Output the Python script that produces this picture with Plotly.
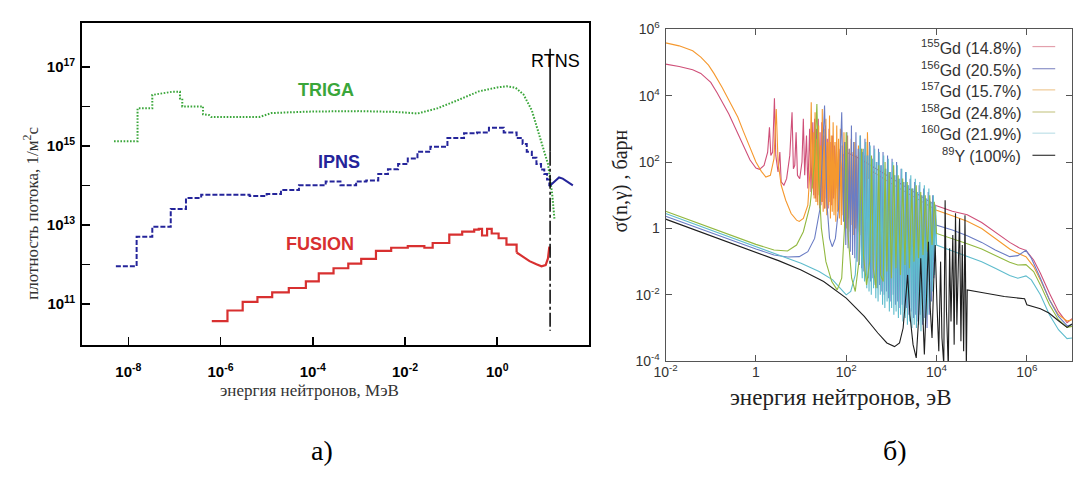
import plotly.graph_objects as go

W, H = 1073, 477

# ---------------- Left panel: neutron flux spectra (log10 values) ----------------
triga_logE = [-8.31, -7.8, -7.8, -7.48, -7.48, -7.2, -7.05, -6.88, -6.88, -6.83, -6.83, -6.38, -6.38, -6.25,
              -6.2, -5.16, -5.0, -4.9, -4.5, -4.0, -3.0, -2.2, -1.73, -1.3, -0.87, -0.4, 0.0, 0.2, 0.4,
              0.57, 0.75, 0.91, 1.0, 1.1, 1.19, 1.24]
triga_logF = [15.12, 15.12, 15.95, 15.95, 16.29, 16.33, 16.37, 16.37, 16.2, 16.2, 16.0, 16.0, 15.8, 15.78,
              15.73, 15.73, 15.8, 15.83, 15.85, 15.87, 15.88, 15.86, 15.82, 15.95, 16.15, 16.38, 16.48, 16.51, 16.47,
              16.3, 15.9, 15.27, 14.9, 14.54, 13.8, 13.15]

ipns_logE = [-8.27, -7.82, -7.48, -7.08, -6.75, -6.42, -5.37, -5.0, -4.69, -4.3, -3.72, -3.4, -3.06, -2.84,
             -2.58, -2.37, -2.15, -1.94, -1.73, -1.45, -1.08, -0.72, -0.44, -0.18, 0.14, 0.42, 0.55, 0.64,
             0.75, 0.85, 0.95, 1.02, 1.08, 1.13]
ipns_logF = [11.95, 12.7, 12.95, 13.4, 13.68, 13.76, 13.73, 13.78, 13.88, 14.0, 14.1, 14.0, 14.1, 14.12,
             14.29, 14.41, 14.54, 14.68, 14.85, 14.98, 15.2, 15.32, 15.34, 15.46, 15.34, 15.2, 15.05, 14.85,
             14.7, 14.54, 14.4, 14.29, 14.15, 13.98]
ipns_tail_logE = [1.13, 1.25, 1.34, 1.42, 1.49, 1.56, 1.64]
ipns_tail_logF = [13.98, 14.1, 14.2, 14.17, 14.12, 14.06, 14.0]

fusion_logE = [-6.19, -5.85, -5.52, -5.2, -4.88, -4.52, -4.15, -3.87, -3.55, -3.23, -2.95, -2.63, -2.3,
               -1.94, -1.58, -1.4, -1.04, -0.76, -0.5, -0.4, -0.33, -0.22, -0.12, 0.03, 0.2, 0.42]
fusion_logF = [10.56, 10.83, 11.05, 11.17, 11.29, 11.4, 11.57, 11.77, 11.9, 12.02, 12.14, 12.34, 12.42,
               12.46, 12.42, 12.54, 12.75, 12.83, 12.88, 12.9, 12.73, 12.9, 12.78, 12.66, 12.5, 12.3]
fusion_tail_logE = [0.42, 0.55, 0.7, 0.85, 0.96, 1.05, 1.1, 1.13]
fusion_tail_logF = [12.3, 12.2, 12.08, 12.0, 11.95, 11.98, 12.15, 12.45]

rtns_E = 14.0                     # MeV
rtns_solid_logF = [17.46, 14.85]
rtns_dash_logF = [14.85, 10.32]

left_xtick_vals = [1e-8, 1e-6, 1e-4, 1e-2, 1]
left_xtick_text = ["10<sup>-8</sup>", "10<sup>-6</sup>", "10<sup>-4</sup>", "10<sup>-2</sup>", "10<sup>0</sup>"]
left_ytick_vals = [1e11, 1e12, 1e13, 1e14, 1e15, 1e16, 1e17]
left_ytick_text = ["10<sup>11</sup>", "", "10<sup>13</sup>", "", "10<sup>15</sup>", "", "10<sup>17</sup>"]

# ---------------- Right panel: (n,gamma) cross sections, (log10 E [eV], log10 sigma [b]) ----------------
gd155 = [(-2.0, 4.95), (-1.7, 4.88), (-1.4, 4.78), (-1.22, 4.67), (-1.0, 4.4), (-0.86, 4.09), (-0.6, 3.45),
         (-0.42, 2.93), (-0.25, 2.45), (-0.13, 2.06), (0.0, 1.82), (0.08, 1.78), (0.18, 1.9), (0.26, 2.3),
         (0.30, 3.05), (0.33, 2.2), (0.37, 2.3), (0.41, 3.92), (0.44, 2.2), (0.49, 1.7), (0.53, 2.3),
         (0.56, 1.4), (0.62, 1.3), (0.68, 1.5), (0.75, 2.2), (0.80, 3.5), (0.83, 1.8), (0.86, 1.9),
         (0.89, 2.9), (0.92, 1.6), (0.97, 1.5), (1.02, 2.0), (1.05, 3.3), (1.08, 1.6), (1.12, 2.8),
         (1.15, 1.2), (1.19, 3.0), (1.22, 1.1), (1.26, 3.2), (1.28, 1.0), (1.30, 3.3), (1.32, 0.9),
         (1.34, 3.0), (1.36, 0.8), (1.38, 3.3), (1.40, 1.0), (1.42, 2.9), (1.44, 0.7), (1.46, 3.2),
         (1.48, 0.8), (1.50, 2.8), (1.52, 0.6), (1.54, 3.1), (1.56, 0.9), (1.58, 2.7), (1.60, 0.6),
         (1.62, 3.0), (1.64, 0.8), (1.66, 2.6), (1.68, 0.7), (1.70, 2.8), (1.72, 0.9), (1.74, 2.5),
         (1.76, 1.0), (1.78, 2.6), (1.80, 1.2), (1.84, 2.4), (1.88, 1.5), (1.93, 2.2), (2.0, 2.3),
         (2.3, 2.1), (2.6, 1.85), (3.0, 1.5), (3.5, 1.1), (4.0, 0.68), (4.35, 0.52), (4.68, 0.41),
         (5.0, 0.18), (5.3, -0.12), (5.62, -0.42), (5.85, -0.6), (5.98, -0.66), (6.15, -0.95), (6.3, -1.35),
         (6.5, -1.95), (6.7, -2.5), (6.89, -2.84), (7.0, -2.72)]

gd156 = [(-2.0, 0.37), (-1.5, 0.12), (-1.0, -0.13), (-0.5, -0.38), (0.0, -0.62), (0.4, -0.8), (0.7, -0.86),
         (0.96, -0.85), (1.15, -0.7), (1.3, -0.3), (1.42, 0.6), (1.52, 3.7), (1.57, 0.8), (1.63, -0.3),
         (1.69, -0.55), (1.76, -0.3), (1.83, 0.6), (1.9, 3.5), (1.94, 0.2), (1.965, 2.6), (1.99, -0.5),
         (2.015, 2.9), (2.04, -0.6), (2.065, 2.4), (2.09, -0.7), (2.115, 3.1), (2.14, -0.8), (2.165, 2.6),
         (2.19, -0.9), (2.215, 2.9), (2.24, -1.0), (2.265, 2.4), (2.29, -1.1), (2.315, 2.8), (2.34, -1.2),
         (2.365, 2.3), (2.39, -1.3), (2.415, 2.7), (2.44, -1.4), (2.465, 2.2), (2.49, -1.5), (2.515, 2.6),
         (2.54, -1.6), (2.565, 2.1), (2.59, -1.5), (2.615, 2.5), (2.64, -1.7), (2.665, 2.0), (2.69, -1.8),
         (2.715, 2.4), (2.74, -1.7), (2.765, 1.9), (2.79, -1.9), (2.815, 2.3), (2.84, -2.0), (2.865, 1.8),
         (2.89, -1.9), (2.915, 2.2), (2.94, -2.1), (2.965, 1.7), (2.99, -2.2), (3.015, 2.1), (3.04, -2.0),
         (3.065, 1.6), (3.09, -2.3), (3.115, 2.0), (3.14, -2.2), (3.165, 1.5), (3.19, -2.4), (3.215, 1.8),
         (3.24, -2.3), (3.265, 1.4), (3.29, -2.5), (3.315, 1.7), (3.34, -2.4), (3.365, 1.3), (3.39, -2.6),
         (3.415, 1.5), (3.44, -2.5), (3.465, 1.2), (3.49, -2.7), (3.515, 1.4), (3.54, -2.6), (3.565, 1.1),
         (3.59, -2.8), (3.615, 1.3), (3.64, -2.6), (3.665, 1.0), (3.69, -2.9), (3.715, 1.2), (3.74, -2.7),
         (3.765, 0.9), (3.79, -3.0), (3.815, 1.1), (3.84, -2.6), (3.865, 0.8), (3.89, -2.2), (3.915, 1.0),
         (3.94, -1.5), (3.965, 0.7), (3.99, 0.1), (4.35, -0.05), (4.68, -0.22), (5.0, -0.42), (5.3, -0.65),
         (5.62, -0.85), (5.8, -0.82), (5.98, -0.66), (6.1, -0.9), (6.3, -1.5), (6.5, -2.15), (6.7, -2.65),
         (6.89, -2.93), (7.0, -2.9)]

gd157 = [(-2.0, 5.59), (-1.7, 5.5), (-1.4, 5.35), (-1.22, 5.16), (-1.05, 4.92), (-0.93, 4.67), (-0.75, 4.25),
         (-0.57, 3.8), (-0.4, 3.35), (-0.28, 2.93), (-0.12, 2.4), (0.0, 2.0), (0.12, 1.72), (0.22, 1.55),
         (0.32, 1.6), (0.40, 2.1), (0.45, 3.6), (0.49, 2.0), (0.56, 1.3), (0.66, 0.85), (0.78, 0.45),
         (0.9, 0.25), (0.96, 0.21), (1.05, 0.3), (1.15, 0.7), (1.20, 1.8), (1.225, 3.8), (1.25, 1.2),
         (1.27, 2.9), (1.29, 0.9), (1.31, 3.5), (1.33, 0.8), (1.35, 2.7), (1.37, 0.7), (1.39, 3.1),
         (1.41, 0.6), (1.43, 2.5), (1.45, 0.8), (1.47, 3.6), (1.49, 0.5), (1.51, 3.0), (1.53, 0.6),
         (1.55, 3.3), (1.57, 0.4), (1.59, 2.6), (1.61, 0.7), (1.63, 3.4), (1.65, 0.3), (1.67, 2.8),
         (1.69, 0.5), (1.71, 3.2), (1.73, 0.4), (1.75, 2.6), (1.77, 0.2), (1.79, 3.1), (1.81, 0.5),
         (1.83, 2.7), (1.85, 0.3), (1.87, 3.0), (1.89, 0.1), (1.91, 2.5), (1.93, 0.4), (1.95, 2.9),
         (1.97, 0.2), (1.99, 2.6), (2.01, 0.0), (2.03, 2.8), (2.05, 0.3), (2.07, 2.4), (2.09, -0.1),
         (2.11, 2.7), (2.13, 0.1), (2.15, 2.3), (2.17, -0.2), (2.19, 2.6), (2.21, 0.0), (2.23, 2.2),
         (2.25, -0.3), (2.27, 2.5), (2.29, -0.1), (2.31, 2.3), (2.33, -0.2), (2.35, 2.4), (2.37, -0.4),
         (2.39, 2.2), (2.41, -0.1), (2.43, 2.6), (2.45, -0.3), (2.47, 2.9), (2.49, 1.5), (2.6, 1.7),
         (3.0, 1.35), (3.5, 0.95), (4.0, 0.55), (4.35, 0.38), (4.68, 0.215), (5.0, 0.0), (5.3, -0.3),
         (5.62, -0.62), (5.85, -0.78), (5.98, -0.85), (6.15, -1.15), (6.3, -1.55), (6.5, -2.15),
         (6.7, -2.6), (6.89, -2.79), (7.0, -2.75)]

gd158 = [(-2.0, 0.52), (-1.5, 0.27), (-1.0, 0.02), (-0.5, -0.23), (0.0, -0.48), (0.4, -0.65), (0.7, -0.68),
         (0.9, -0.5), (1.05, -0.1), (1.2, 0.7), (1.3, 2.0), (1.35, 3.75), (1.39, 1.5), (1.45, 0.0),
         (1.55, -1.0), (1.68, -1.6), (1.8, -1.85), (1.9, -1.5), (1.96, 0.0), (2.0, 2.9), (2.04, -0.2),
         (2.12, -1.5), (2.2, -1.9), (2.28, -1.0), (2.34, 2.4), (2.38, -0.8), (2.45, -1.7), (2.52, -1.0),
         (2.56, 2.2), (2.6, -1.2), (2.66, -1.8), (2.72, 1.9), (2.76, -1.4), (2.82, -1.6), (2.86, 2.0),
         (2.9, -1.3), (2.95, 1.7), (3.0, -1.5), (3.05, 1.9), (3.1, -1.2), (3.15, 1.6), (3.2, -1.4),
         (3.25, 1.5), (3.3, -1.1), (3.35, 1.4), (3.4, -1.2), (3.45, 1.2), (3.5, -1.0), (3.55, 1.3),
         (3.6, -0.9), (3.65, 1.1), (3.7, -0.8), (3.75, 1.0), (3.8, -0.7), (3.85, 1.0), (3.9, -0.5),
         (3.95, 0.8), (4.0, -0.15), (4.35, -0.3), (4.68, -0.46), (5.0, -0.62), (5.3, -0.82),
         (5.62, -1.02), (5.8, -1.1), (5.98, -1.09), (6.15, -1.3), (6.3, -1.7), (6.5, -2.3), (6.7, -2.75),
         (6.89, -2.98), (7.0, -2.95)]

gd160 = [(-2.0, 0.45), (-1.5, 0.2), (-1.0, -0.05), (-0.5, -0.3), (0.0, -0.55), (0.5, -0.8), (1.0, -1.05),
         (1.4, -1.3), (1.7, -1.55), (1.9, -1.85), (2.0, -2.0), (2.1, -1.9), (2.2, -1.4), (2.28, 0.5),
         (2.305, 2.8), (2.33, -0.5), (2.355, -1.5), (2.38, 2.4), (2.405, -1.6), (2.43, 2.6), (2.455, -1.8),
         (2.48, 2.2), (2.505, -1.9), (2.53, 2.5), (2.555, -2.0), (2.58, 2.1), (2.605, -1.8), (2.63, 2.4),
         (2.655, -2.1), (2.68, 2.0), (2.705, -2.2), (2.73, 2.3), (2.755, -2.0), (2.78, 1.9), (2.805, -2.3),
         (2.83, 2.2), (2.855, -2.4), (2.88, 1.8), (2.905, -2.2), (2.93, 2.1), (2.955, -2.5), (2.98, 1.7),
         (3.005, -2.4), (3.03, 2.0), (3.055, -2.6), (3.08, 1.6), (3.105, -2.5), (3.13, 1.9), (3.155, -2.7),
         (3.18, 1.5), (3.205, -2.6), (3.23, 1.8), (3.255, -2.8), (3.28, 1.4), (3.305, -2.7), (3.33, 1.7),
         (3.355, -2.9), (3.38, 1.3), (3.405, -2.8), (3.43, 1.6), (3.455, -3.0), (3.48, 1.2), (3.505, -2.9),
         (3.53, 1.5), (3.555, -3.0), (3.58, 1.1), (3.605, -2.9), (3.63, 1.4), (3.655, -3.1), (3.68, 1.0),
         (3.705, -2.8), (3.73, 1.3), (3.755, -2.9), (3.78, 0.9), (3.805, -2.6), (3.83, 1.2), (3.855, -2.3),
         (3.88, 0.8), (3.905, -1.9), (3.93, 1.0), (3.955, -1.4), (3.98, 0.7), (4.0, -0.5), (4.35, -0.68),
         (4.68, -0.85), (5.0, -1.0), (5.3, -1.2), (5.62, -1.42), (5.8, -1.5), (5.98, -1.43), (6.1, -1.55),
         (6.3, -2.0), (6.5, -2.6), (6.7, -3.05), (6.89, -3.32), (7.0, -3.3)]

y89 = [(-2.0, 0.28), (-1.5, 0.03), (-1.0, -0.22), (-0.5, -0.47), (0.0, -0.72), (0.5, -0.97), (1.0, -1.25),
       (1.5, -1.6), (2.0, -2.1), (2.4, -2.65), (2.7, -3.15), (2.9, -3.45), (3.07, -3.56), (3.18, -3.45),
       (3.26, -3.0), (3.32, -2.0), (3.36, -1.4), (3.41, -2.6), (3.48, -3.5), (3.55, -3.9), (3.6, -2.8),
       (3.65, -0.9), (3.69, -2.7), (3.73, -3.8), (3.78, -2.0), (3.82, -0.4), (3.86, -2.4), (3.9, -3.3),
       (3.94, -1.5), (3.97, -0.5), (4.01, -2.3), (4.05, -3.7), (4.09, -1.0), (4.12, -3.3), (4.16, -4.1),
       (4.19, 0.85), (4.22, -2.5), (4.26, -4.2), (4.29, -0.6), (4.32, -2.8), (4.36, -0.2), (4.39, -3.5),
       (4.42, 0.46), (4.45, -2.9), (4.48, -1.2), (4.51, 0.3), (4.54, -3.4), (4.57, -0.5), (4.6, -3.7),
       (4.63, 0.4), (4.66, -4.2), (4.68, -1.85), (5.0, -1.93), (5.5, -2.05), (5.95, -2.12), (6.0, -2.3),
       (6.3, -2.42), (6.49, -2.55), (6.7, -2.78), (6.89, -2.98), (7.0, -2.88)]

right_series_names = ["<sup>155</sup>Gd (14.8%)", "<sup>156</sup>Gd (20.5%)", "<sup>157</sup>Gd (15.7%)",
                      "<sup>158</sup>Gd (24.8%)", "<sup>160</sup>Gd (21.9%)", "<sup>89</sup>Y (100%)"]
right_series = [gd155, gd156, gd157, gd158, gd160, y89]
right_colors = ["#cf4f78", "#6a7cc4", "#f5982e", "#92b840", "#5fbccd", "#1e1e1e"]
legend_colors = ["#e3a0ac", "#8c92c8", "#efca96", "#c9c98e", "#bfe0e8", "#3a3a3a"]
draw_order = [0, 2, 1, 4, 3, 5]

right_xtick_vals = [1e-2, 1, 1e2, 1e4, 1e6]
right_xtick_text = ["10<sup>-2</sup>", "1", "10<sup>2</sup>", "10<sup>4</sup>", "10<sup>6</sup>"]
right_ytick_vals = [1e-4, 1e-2, 1, 1e2, 1e4, 1e6]
right_ytick_text = ["10<sup>-4</sup>", "10<sup>-2</sup>", "1", "10<sup>2</sup>", "10<sup>4</sup>", "10<sup>6</sup>"]


def pw(v):
    return [10 ** a for a in v]


def px(x):
    return x / W


def py(y):
    return 1 - y / H


fig = go.Figure()

# Left traces
fig.add_trace(go.Scatter(x=pw(triga_logE), y=pw(triga_logF), mode="lines", xaxis="x", yaxis="y",
                         line=dict(color="#3aa63a", width=2.0, dash="1.6px,1.6px")))
fig.add_trace(go.Scatter(x=pw(ipns_logE), y=pw(ipns_logF), mode="lines", xaxis="x", yaxis="y",
                         line=dict(color="#24249a", width=2.0, dash="5px,2px", shape="hv")))
fig.add_trace(go.Scatter(x=pw(ipns_tail_logE), y=pw(ipns_tail_logF), mode="lines", xaxis="x", yaxis="y",
                         line=dict(color="#24249a", width=2.0)))
fig.add_trace(go.Scatter(x=pw(fusion_logE), y=pw(fusion_logF), mode="lines", xaxis="x", yaxis="y",
                         line=dict(color="#d83030", width=2.2, shape="hv")))
fig.add_trace(go.Scatter(x=pw(fusion_tail_logE), y=pw(fusion_tail_logF), mode="lines", xaxis="x", yaxis="y",
                         line=dict(color="#d83030", width=2.2)))
fig.add_trace(go.Scatter(x=[rtns_E, rtns_E], y=pw(rtns_solid_logF), mode="lines", xaxis="x", yaxis="y",
                         line=dict(color="black", width=1.5)))
fig.add_trace(go.Scatter(x=[rtns_E, rtns_E], y=pw(rtns_dash_logF), mode="lines", xaxis="x", yaxis="y",
                         line=dict(color="black", width=1.5, dash="14px,3px,3px,3px")))

# Right traces
for i in draw_order:
    pts = right_series[i]
    fig.add_trace(go.Scatter(x=[10 ** p[0] for p in pts], y=[10 ** p[1] for p in pts], mode="lines",
                             xaxis="x2", yaxis="y2", line=dict(color=right_colors[i], width=1.1)))

bold_tick = dict(family="Liberation Sans", size=15, color="black", weight="bold")
right_tick = dict(family="Liberation Sans", size=14, color="#333333")

fig.update_layout(
    width=W, height=H, margin=dict(l=0, r=0, t=0, b=0),
    paper_bgcolor="white", plot_bgcolor="white", showlegend=False,
    xaxis=dict(type="log", range=[-9.0, 2.0], domain=[px(71), px(584)], anchor="y",
               tickvals=left_xtick_vals, ticktext=left_xtick_text, ticks="inside", ticklen=8, tickwidth=1.5,
               tickcolor="black", showline=True, linewidth=2, linecolor="black", mirror=True,
               showgrid=False, zeroline=False, tickfont=bold_tick, ticklabelstandoff=12),
    yaxis=dict(type="log", range=[9.96, 18.1], domain=[py(348), py(14)], anchor="x",
               tickvals=left_ytick_vals, ticktext=left_ytick_text, ticks="inside", ticklen=8, tickwidth=1.5,
               tickcolor="black", showline=True, linewidth=2, linecolor="black", mirror=True,
               showgrid=False, zeroline=False, tickfont=bold_tick, ticklabelstandoff=2),
    xaxis2=dict(type="log", range=[-2.0, 7.0], domain=[px(661), px(1072)], anchor="y2",
                tickvals=right_xtick_vals, ticktext=right_xtick_text, ticks="inside", ticklen=6,
                tickcolor="#555", showline=True, linewidth=1, linecolor="#555", mirror="ticks",
                showgrid=False, zeroline=False, tickfont=right_tick, ticklabelstandoff=-2),
    yaxis2=dict(type="log", range=[-4.0, 6.0], domain=[py(365), py(20)], anchor="x2",
                tickvals=right_ytick_vals, ticktext=right_ytick_text, ticks="inside", ticklen=6,
                tickcolor="#555", showline=True, linewidth=1, linecolor="#555", mirror="ticks",
                showgrid=False, zeroline=False, tickfont=right_tick, ticklabelstandoff=2),
)

ann = []
lab = dict(family="Liberation Sans", size=18, weight="bold")
ann.append(dict(text="TRIGA", x=px(318), y=py(83), font=dict(lab, color="#3aa63a")))
ann.append(dict(text="IPNS", x=px(331), y=py(158), font=dict(lab, color="#24249a")))
ann.append(dict(text="FUSION", x=px(311), y=py(243), font=dict(lab, color="#d83030")))
ann.append(dict(text="RTNS", x=px(550), y=py(53), font=dict(family="Liberation Sans", size=18, color="black")))
serif = "Liberation Serif"
ann.append(dict(text="плотность потока, 1/м<sup>2</sup>с", x=px(19), y=py(211), textangle=-90,
                font=dict(family=serif, size=17, color="#333")))
ann.append(dict(text="энергия нейтронов, МэВ", x=px(301), y=py(395),
                font=dict(family=serif, size=17, color="#333")))
ann.append(dict(text="энергия нейтронов, эВ", x=px(838), y=py(403),
                font=dict(family=serif, size=23, color="#222")))
ann.append(dict(text="σ(n,γ) , барн", x=px(615), y=py(178), textangle=-90,
                font=dict(family=serif, size=20, color="#222")))
ann.append(dict(text="а)", x=px(314), y=py(458), font=dict(family=serif, size=28, color="black")))
ann.append(dict(text="б)", x=px(893), y=py(458), font=dict(family=serif, size=28, color="black")))

legend_y = [38, 61, 83, 106, 128, 151]
shapes = []
for name, yy, col in zip(right_series_names, legend_y, legend_colors):
    ann.append(dict(text=name, x=px(1022), y=py(yy), xanchor="right",
                    font=dict(family="Liberation Sans", size=16, color="#333")))
    shapes.append(dict(type="line", xref="paper", yref="paper", x0=px(1032), x1=px(1055),
                       y0=py(yy), y1=py(yy), line=dict(color=col, width=1.2)))

for a in ann:
    a.setdefault("xref", "paper")
    a.setdefault("yref", "paper")
    a.setdefault("xanchor", "center")
    a.setdefault("yanchor", "middle")
    a.setdefault("showarrow", False)
fig.update_layout(annotations=ann, shapes=shapes)

fig.write_html("out.html", config={"displayModeBar": False, "staticPlot": True},
               post_script="document.body.style.margin='0px';document.body.style.overflow='hidden';")
